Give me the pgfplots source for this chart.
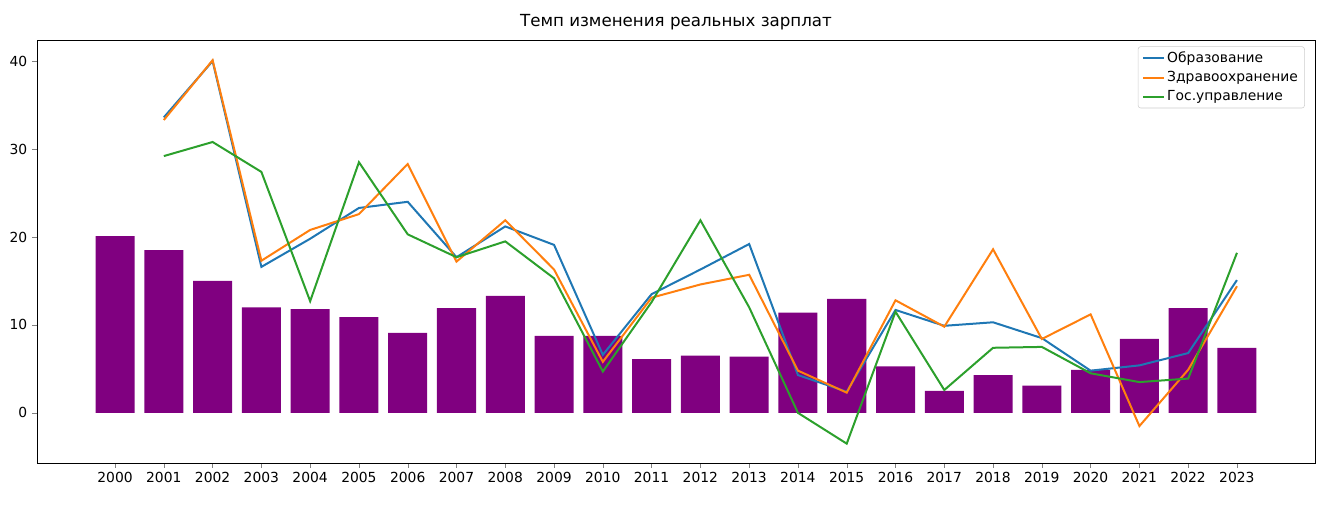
\documentclass[border=0pt]{standalone}
\usepackage{pgfplots}
\pgfplotsset{compat=1.18}
\usepackage{fontspec}
\setmainfont{DejaVu Sans}
\definecolor{bpurple}{RGB}{128,0,128}
\definecolor{c0}{HTML}{1F77B4}
\definecolor{c1}{HTML}{FF7F0E}
\definecolor{c2}{HTML}{2CA02C}
\begin{document}
\fontsize{10.4pt}{12pt}\selectfont
\begin{tikzpicture}
\useasboundingbox (-27.75pt,-34.5pt) rectangle (975pt,347.25pt);
\begin{axis}[scale only axis, width=958.5pt, height=317.25pt,
  xmin=1998.4, xmax=2024.6, ymin=-5.7, ymax=42.4,
  xtick={2000,...,2023}, ytick={0,10,20,30,40},
  /pgf/number format/1000 sep={},
  /pgf/number format/assume math mode=true,
  tick align=outside, tick pos=lower, major tick length=3.6pt,
  tick label style={font=\fontsize{10.4pt}{12pt}\selectfont},
  title={Темп изменения реальных зарплат},
  title style={font=\fontsize{12.5pt}{14pt}\selectfont, yshift=-2pt},
  legend style={at={(0.992,0.985)}, anchor=north east, draw=black!20, rounded corners=2pt,
    font=\fontsize{10.4pt}{12pt}\selectfont, cells={anchor=west}, row sep=1pt},
  legend image post style={xscale=0.9},
]
\addplot[ybar, bar width=0.8, fill=bpurple, draw=none, forget plot] coordinates {
(2000,20.1)(2001,18.5)(2002,15.0)(2003,12.0)(2004,11.8)(2005,10.9)(2006,9.1)(2007,11.9)
(2008,13.3)(2009,8.75)(2010,8.75)(2011,6.1)(2012,6.5)(2013,6.4)(2014,11.4)(2015,12.95)
(2016,5.3)(2017,2.5)(2018,4.3)(2019,3.1)(2020,4.9)(2021,8.4)(2022,11.9)(2023,7.4)};
\addplot[c0, line width=1.5pt] coordinates {
(2001,33.6)(2002,40.0)(2003,16.6)(2004,19.8)(2005,23.3)(2006,24.0)(2007,17.7)(2008,21.2)
(2009,19.1)(2010,6.6)(2011,13.5)(2012,16.3)(2013,19.2)(2014,4.3)(2015,2.4)(2016,11.7)
(2017,9.9)(2018,10.3)(2019,8.5)(2020,4.8)(2021,5.4)(2022,6.8)(2023,15.1)};
\addlegendentry{Образование}
\addplot[c1, line width=1.5pt] coordinates {
(2001,33.3)(2002,40.1)(2003,17.3)(2004,20.8)(2005,22.6)(2006,28.3)(2007,17.2)(2008,21.9)
(2009,16.3)(2010,5.8)(2011,13.1)(2012,14.6)(2013,15.7)(2014,4.8)(2015,2.3)(2016,12.8)
(2017,9.8)(2018,18.6)(2019,8.4)(2020,11.2)(2021,-1.5)(2022,4.9)(2023,14.4)};
\addlegendentry{Здравоохранение}
\addplot[c2, line width=1.5pt] coordinates {
(2001,29.2)(2002,30.8)(2003,27.4)(2004,12.7)(2005,28.5)(2006,20.3)(2007,17.7)(2008,19.5)
(2009,15.3)(2010,4.7)(2011,12.6)(2012,21.9)(2013,12.0)(2014,0.0)(2015,-3.5)(2016,11.5)
(2017,2.6)(2018,7.4)(2019,7.5)(2020,4.5)(2021,3.5)(2022,3.9)(2023,18.2)};
\addlegendentry{Гос.управление}
\end{axis}
\end{tikzpicture}
\end{document}
